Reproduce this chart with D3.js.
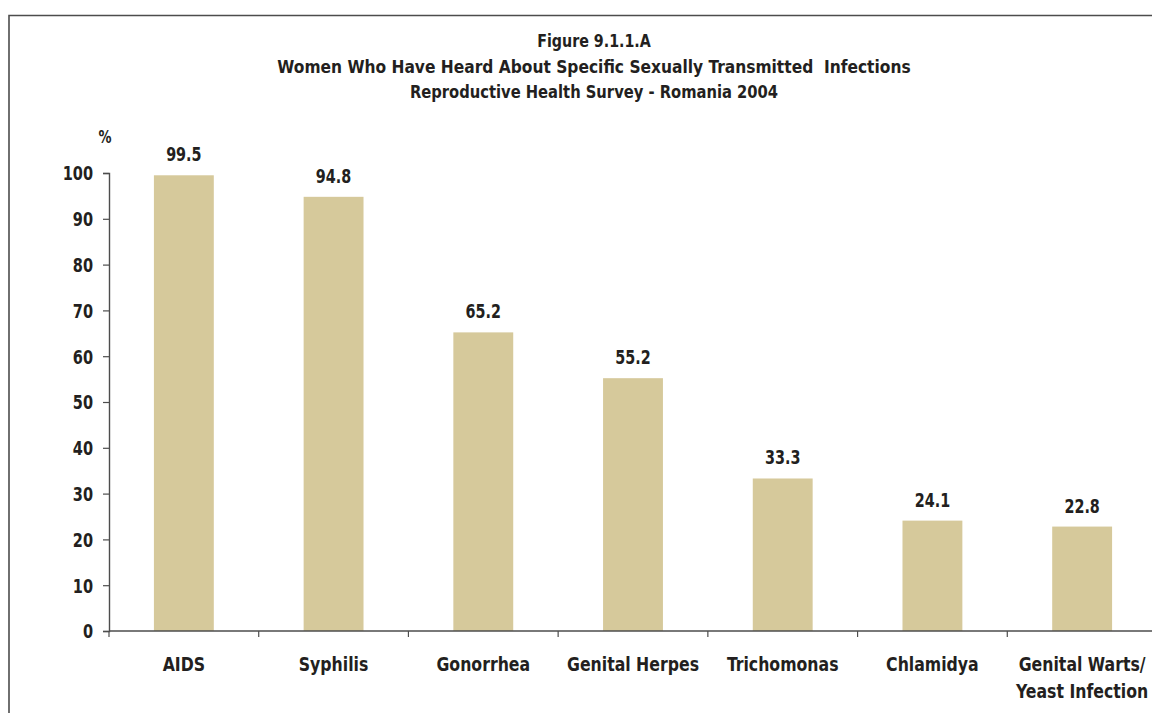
<!DOCTYPE html>
<html>
<head>
<meta charset="utf-8">
<script src="https://cdn.jsdelivr.net/npm/d3@7"></script>
<style>
  html, body { margin: 0; padding: 0; background: #fff; }
  svg { display: block; }
  text { font-family: "Liberation Sans Narrow", "DejaVu Sans Condensed", "Roboto", sans-serif; font-weight: bold; fill: #231f20; }
</style>
</head>
<body>
<svg id="chart" width="1152" height="713"></svg>
<script>
// Infections and share of women who have heard of each (%)
const categories = ["AIDS", "Syphilis", "Gonorrhea", "Genital Herpes", "Trichomonas", "Chlamidya", "Genital Warts/\nYeast Infection"];
const values = [99.5, 94.8, 65.2, 55.2, 33.3, 24.1, 22.8];
const yTicks = [0, 10, 20, 30, 40, 50, 60, 70, 80, 90, 100];
const titleLines = [
  "Figure 9.1.1.A",
  "Women Who Have Heard About Specific Sexually Transmitted  Infections",
  "Reproductive Health Survey - Romania 2004"
];

const svg = d3.select("#chart");
const W = 1152, H = 713;

// Squeeze text horizontally to get a narrow, condensed face
function condense(sel, factor) {
  sel.each(function (d, i) {
    const f = typeof factor === "function" ? factor(d, i) : factor;
    const len = this.getComputedTextLength();
    d3.select(this)
      .attr("textLength", len * f)
      .attr("lengthAdjust", "spacingAndGlyphs");
  });
}

// Outer frame (top and left edges)
svg.append("path")
  .attr("d", `M9,${H} V15.5 H${W}`)
  .attr("fill", "none")
  .attr("stroke", "#4d4d4d")
  .attr("stroke-width", 1.6);

// Title block
const titles = svg.append("g").selectAll("text")
  .data(titleLines)
  .join("text")
  .attr("x", 594)
  .attr("y", (d, i) => 47 + i * 25.5)
  .attr("text-anchor", "middle")
  .attr("font-size", 18)
  .attr("xml:space", "preserve")
  .style("white-space", "pre")
  .text(d => d);
condense(titles, (d, i) => [0.88, 0.955, 0.91][i]);

const plotLeft = 109, plotRight = 1157, plotTop = 173, plotBottom = 631;

const x = d3.scaleBand()
  .domain(categories)
  .range([plotLeft, plotRight])
  .paddingInner(0.6)
  .paddingOuter(0.3);

const y = d3.scaleLinear()
  .domain([0, 100])
  .range([plotBottom, plotTop]);

// Bars
svg.append("g").selectAll("rect")
  .data(values)
  .join("rect")
  .attr("x", (d, i) => x(categories[i]))
  .attr("width", x.bandwidth())
  .attr("y", d => y(d))
  .attr("height", d => y(0) - y(d))
  .attr("fill", "#d6c99b");

// Value labels
const valueLabels = svg.append("g").selectAll("text")
  .data(values)
  .join("text")
  .attr("x", (d, i) => x(categories[i]) + x.bandwidth() / 2)
  .attr("y", d => y(d) - 14)
  .attr("text-anchor", "middle")
  .attr("font-size", 19)
  .text(d => d.toFixed(1));
condense(valueLabels, 0.84);

// Y axis
const yAxis = svg.append("g")
  .attr("transform", `translate(${plotLeft},0)`)
  .call(d3.axisLeft(y).tickValues(yTicks).tickSize(6).tickPadding(10).tickFormat(d3.format("d")));
yAxis.attr("font-family", null).attr("font-size", null);
yAxis.select(".domain").attr("stroke", "#4d4d4d").attr("stroke-width", 1.4);
yAxis.selectAll(".tick line").attr("stroke", "#4d4d4d").attr("stroke-width", 1.2);
const tickLabels = yAxis.selectAll(".tick text")
  .attr("font-size", 19)
  .attr("fill", "#231f20")
  .attr("dy", "0.36em");
condense(tickLabels, 0.85);

// Unit label
const unit = svg.append("text")
  .attr("x", 105)
  .attr("y", 143)
  .attr("text-anchor", "middle")
  .attr("font-size", 17)
  .text("%");
condense(unit, 0.85);

// X axis: baseline with ticks at band boundaries
const boundaries = categories.map(c => x(c) - x.step() * x.paddingInner() / 2);
svg.append("line")
  .attr("x1", plotLeft).attr("x2", plotRight)
  .attr("y1", plotBottom).attr("y2", plotBottom)
  .attr("stroke", "#4d4d4d").attr("stroke-width", 1.4);
svg.append("g").selectAll("line")
  .data(boundaries)
  .join("line")
  .attr("x1", d => d).attr("x2", d => d)
  .attr("y1", plotBottom).attr("y2", plotBottom + 6)
  .attr("stroke", "#4d4d4d").attr("stroke-width", 1.2);

// Category labels
const catText = svg.append("g").selectAll("text")
  .data(categories)
  .join("text")
  .attr("x", d => x(d) + x.bandwidth() / 2)
  .attr("y", 671)
  .attr("text-anchor", "middle")
  .attr("font-size", 19);
const catLines = catText.selectAll("tspan")
  .data(d => d.split("\n"))
  .join("tspan")
  .attr("x", function () { return d3.select(this.parentNode).attr("x"); })
  .attr("dy", (d, i) => i === 0 ? 0 : 27)
  .text(d => d);
condense(catLines, 0.92);
</script>
</body>
</html>
